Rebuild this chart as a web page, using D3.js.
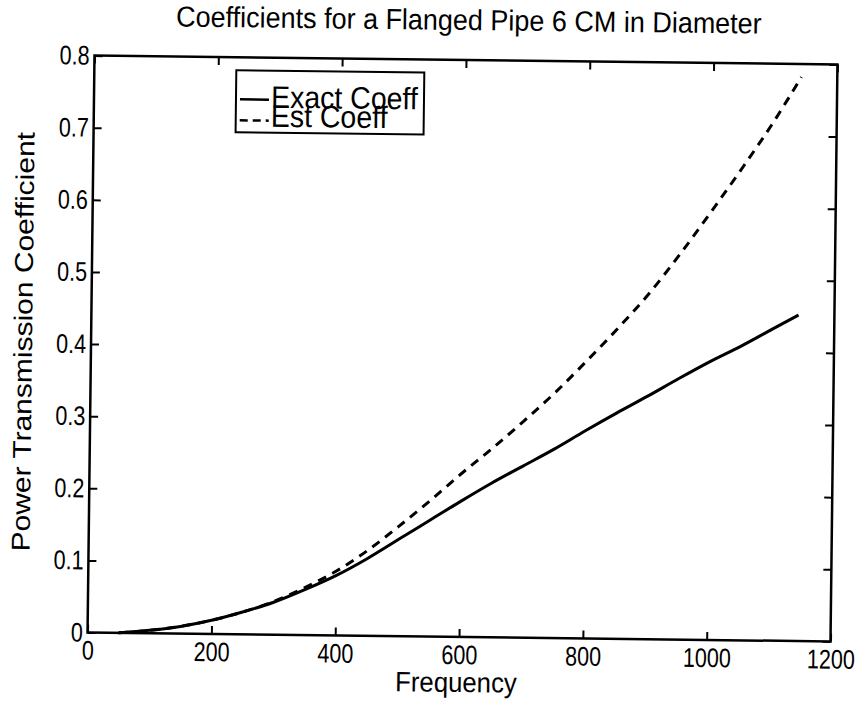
<!DOCTYPE html>
<html>
<head>
<meta charset="utf-8">
<script src="https://cdn.jsdelivr.net/npm/d3@7/dist/d3.min.js"></script>
<style>
  body { margin: 0; background: #fff; }
  text { font-family: "Liberation Sans", Arial, sans-serif; fill: #000; }
</style>
</head>
<body>
<svg id="chart" width="861" height="709"></svg>
<script>
// Frequency samples (Hz)
const frequency = [50, 100, 150, 200, 250, 300, 350, 400, 450, 500, 550, 600,
                   650, 700, 750, 800, 850, 900, 950, 1000, 1050, 1100, 1142];
// Exact power transmission coefficient
const exactCoeff = [0.000, 0.004, 0.010, 0.019, 0.031, 0.045, 0.063, 0.083, 0.107, 0.134, 0.161, 0.188,
                    0.214, 0.238, 0.262, 0.288, 0.313, 0.337, 0.362, 0.386, 0.408, 0.432, 0.452];
// Estimated power transmission coefficient
const estCoeff = [0.000, 0.004, 0.010, 0.019, 0.031, 0.046, 0.066, 0.089, 0.118, 0.152, 0.188, 0.226,
                  0.262, 0.300, 0.340, 0.384, 0.430, 0.479, 0.535, 0.595, 0.657, 0.722, 0.782];

const xTicks = [0, 200, 400, 600, 800, 1000, 1200];
const yTicks = [0, 0.1, 0.2, 0.3, 0.4, 0.5, 0.6, 0.7, 0.8];
const seriesNames = ["Exact Coeff", "Est Coeff"];
const titleText = "Coefficients for a Flanged Pipe 6 CM in Diameter";
const xLabel = "Frequency";
const yLabel = "Power Transmission Coefficient";

const plot = { left: 91, right: 834, top: 60, bottom: 637 };

const x = d3.scaleLinear().domain([0, 1200]).range([plot.left, plot.right]);
const y = d3.scaleLinear().domain([0, 0.8]).range([plot.bottom, plot.top]);

const svg = d3.select("#chart");
// the whole figure sits slightly tilted on the page
const g = svg.append("g").attr("transform", "rotate(0.69,463,348)");

// horizontally condensed text placed at (tx, ty)
function label(parent, tx, ty, str, size, sx, anchor, extra) {
  return parent.append("text")
    .attr("transform", `translate(${tx},${ty}) scale(${sx},1)` + (extra || ""))
    .attr("text-anchor", anchor || "start")
    .attr("font-size", size)
    .text(str);
}

// curves
const line = d3.line()
  .x((d, i) => x(frequency[i]))
  .y(d => y(d))
  .curve(d3.curveMonotoneX);

g.append("path")
  .datum(exactCoeff)
  .attr("d", line)
  .attr("fill", "none")
  .attr("stroke", "#000")
  .attr("stroke-width", 3);

g.append("path")
  .datum(estCoeff)
  .attr("d", line)
  .attr("fill", "none")
  .attr("stroke", "#000")
  .attr("stroke-width", 3)
  .attr("stroke-dasharray", "9,7");

// axes with inward ticks on all four sides
const fmtY = d => d === 0 ? "0" : d3.format(".1f")(d);

g.append("g")
  .attr("transform", `translate(0,${plot.bottom})`)
  .call(d3.axisBottom(x).tickValues(xTicks).tickSizeInner(-8).tickSizeOuter(0).tickPadding(8).tickFormat(d3.format("d")));
g.append("g")
  .attr("transform", `translate(${plot.left},0)`)
  .call(d3.axisLeft(y).tickValues(yTicks).tickSizeInner(-8).tickSizeOuter(0).tickPadding(6).tickFormat(fmtY));
g.append("g")
  .attr("transform", `translate(0,${plot.top})`)
  .call(d3.axisTop(x).tickValues(xTicks).tickSizeInner(-8).tickSizeOuter(0).tickFormat(""));
g.append("g")
  .attr("transform", `translate(${plot.right},0)`)
  .call(d3.axisRight(y).tickValues(yTicks).tickSizeInner(-8).tickSizeOuter(0).tickFormat(""));

g.selectAll(".domain").remove();
g.selectAll(".tick line").attr("stroke", "#000").attr("stroke-width", 2);
g.selectAll(".tick text")
  .attr("font-size", 27)
  .attr("font-family", "Liberation Sans, Arial, sans-serif")
  .attr("transform", "scale(0.8,1)");

// plot frame
g.append("rect")
  .attr("x", plot.left).attr("y", plot.top)
  .attr("width", plot.right - plot.left).attr("height", plot.bottom - plot.top)
  .attr("fill", "none").attr("stroke", "#000").attr("stroke-width", 2.5);

// title and axis labels
label(g, 465, 30, titleText, 29, 0.93, "middle");
label(g, 460, 692, xLabel, 28, 0.92, "middle");
label(g, 32, 347, yLabel, 30, 0.86, "middle", " rotate(-90)");

// legend
const legend = g.append("g");
legend.append("rect")
  .attr("x", 233).attr("y", 73).attr("width", 188).attr("height", 62)
  .attr("fill", "#fff").attr("stroke", "#000").attr("stroke-width", 2);
const dashes = [null, "8,5"];
seriesNames.forEach((name, i) => {
  const ly = 102 + i * 21;
  legend.append("line")
    .attr("x1", 237).attr("x2", 266).attr("y1", ly).attr("y2", ly)
    .attr("stroke", "#000").attr("stroke-width", 2.5)
    .attr("stroke-dasharray", dashes[i]);
  label(legend, 268, ly + 8 - i * 2, name, 31, 0.92, "start");
});
</script>
</body>
</html>
